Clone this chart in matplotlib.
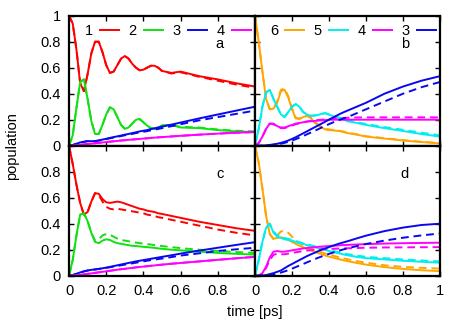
import matplotlib
matplotlib.use("Agg")
import matplotlib.pyplot as plt

plt.rcParams['font.family'] = ['Liberation Sans', 'DejaVu Sans']

# time grid [ps]
T = [0, .02, .04, .06, .08, .10, .12, .14, .16, .18, .20, .22, .24, .26, .28, .30,
     .32, .34, .36, .38, .40, .42, .44, .46, .48, .50, .55, .60, .70, .80, .90, 1.0]

# panel a: states 1..4, solid and dashed
a1 = [1.00, .94, .74, .48, .42, .55, .71, .80, .80, .72, .62, .56, .57, .62, .67, .69,
      .67, .63, .60, .58, .585, .60, .615, .615, .60, .575, .56, .57, .535, .51, .48, .455]
a1d = [1.00, .94, .74, .48, .42, .55, .71, .80, .80, .72, .62, .56, .57, .62, .67, .69,
       .67, .63, .60, .58, .585, .60, .615, .615, .60, .575, .555, .565, .53, .50, .47, .445]
a2 = [0, .08, .29, .49, .51, .36, .19, .09, .09, .16, .24, .295, .28, .22, .16, .13,
      .14, .17, .20, .205, .18, .155, .135, .13, .14, .155, .16, .14, .135, .12, .11, .105]
a2d = [0, .08, .29, .49, .51, .36, .19, .09, .09, .16, .24, .295, .28, .22, .16, .13,
       .14, .17, .20, .205, .18, .155, .135, .13, .14, .155, .16, .145, .14, .125, .115, .11]
a3 = [0, .005, .015, .025, .03, .035, .035, .035, .04, .047, .053, .06, .066, .072, .078, .085,
      .09, .097, .103, .11, .115, .12, .128, .134, .14, .147, .162, .178, .21, .24, .27, .30]
a3d = [0, .005, .015, .025, .03, .035, .035, .035, .04, .046, .051, .057, .063, .068, .074, .08,
       .085, .091, .097, .102, .107, .112, .118, .123, .129, .135, .15, .165, .195, .22, .245, .27]
a4 = [0, 0, .003, .006, .01, .013, .016, .019, .022, .025, .028, .031, .034, .037, .04, .042,
      .045, .047, .05, .052, .055, .057, .06, .062, .064, .066, .071, .076, .085, .093, .10, .105]
a4d = a4

# panel b: states 6, 5, 4, 3
b6 = [1.00, .80, .57, .36, .28, .285, .33, .42, .43, .37, .28, .21, .205, .22, .228, .215,
      .18, .16, .14, .125, .12, .118, .115, .112, .105, .097, .085, .07, .055, .04, .028, .018]
b6d = [1.00, .80, .57, .36, .28, .29, .34, .43, .44, .38, .29, .215, .21, .225, .232, .22,
       .185, .165, .145, .13, .125, .122, .118, .114, .108, .10, .088, .073, .058, .043, .03, .02]
b5 = [0, .13, .30, .41, .43, .36, .30, .24, .22, .26, .30, .32, .30, .26, .24, .23,
      .232, .236, .245, .25, .24, .228, .218, .21, .2, .188, .175, .16, .135, .113, .09, .07]
b5d = [0, .13, .30, .41, .43, .36, .30, .24, .22, .26, .30, .32, .30, .26, .24, .23,
       .232, .236, .245, .25, .24, .23, .222, .214, .205, .195, .18, .167, .143, .122, .1, .08]
b4 = [0, .02, .07, .13, .17, .17, .15, .14, .14, .15, .16, .17, .175, .18, .185, .188,
      .19, .193, .195, .197, .2, .2, .2, .2, .2, .2, .2, .2, .2, .2, .2, .2]
b4d = [0, .02, .07, .13, .17, .165, .145, .135, .135, .145, .155, .165, .172, .18, .186, .19,
       .195, .198, .2, .203, .206, .208, .21, .212, .213, .215, .217, .218, .218, .218, .218, .218]
b3 = [0, 0, .001, .003, .006, .01, .015, .022, .03, .04, .052, .065, .08, .095, .11, .125,
      .14, .155, .17, .185, .20, .215, .23, .245, .258, .27, .30, .33, .40, .455, .50, .535]
b3d = [0, 0, .001, .002, .004, .007, .011, .015, .022, .03, .04, .05, .062, .074, .087, .10,
       .113, .126, .14, .153, .166, .178, .19, .20, .21, .22, .25, .28, .34, .40, .45, .49]

# panel c: states 1..4
c1 = [1.00, .86, .70, .56, .47, .49, .57, .635, .63, .59, .565, .56, .565, .57, .565, .555,
      .545, .535, .525, .515, .51, .50, .495, .49, .48, .475, .46, .445, .415, .39, .365, .345]
c1d = [1.00, .86, .70, .56, .47, .49, .57, .635, .62, .57, .53, .515, .51, .515, .51, .505,
       .50, .495, .49, .485, .48, .47, .465, .46, .45, .445, .43, .415, .385, .355, .33, .31]
c2 = [0, .12, .31, .47, .48, .42, .33, .26, .25, .27, .28, .275, .26, .25, .245, .24,
      .235, .23, .228, .225, .222, .22, .217, .214, .21, .207, .20, .195, .185, .175, .168, .162]
c2d = [0, .12, .31, .47, .48, .42, .33, .27, .28, .31, .32, .315, .30, .285, .275, .27,
       .265, .26, .255, .25, .247, .243, .24, .235, .232, .228, .22, .212, .2, .19, .182, .175]
c3 = [0, .005, .015, .025, .033, .04, .045, .048, .052, .057, .062, .068, .074, .08, .086, .092,
      .098, .104, .11, .115, .12, .125, .13, .135, .14, .145, .157, .17, .193, .215, .237, .258]
c3d = [0, .005, .015, .025, .033, .04, .045, .048, .052, .056, .06, .065, .07, .075, .08, .085,
       .09, .095, .1, .105, .11, .115, .12, .124, .128, .132, .143, .155, .172, .19, .203, .215]
c4 = [0, .001, .003, .006, .01, .014, .018, .022, .026, .03, .034, .038, .042, .046, .05, .053,
      .057, .06, .064, .067, .07, .073, .076, .079, .082, .085, .092, .098, .11, .122, .134, .145]
c4d = c4

# panel d: states 6, 5, 4, 3
d6 = [1.00, .87, .67, .46, .32, .285, .29, .295, .29, .275, .26, .245, .23, .22, .205, .195,
      .185, .175, .165, .155, .147, .14, .132, .125, .118, .112, .098, .085, .066, .052, .042, .035]
d6d = [1.00, .87, .67, .46, .32, .28, .31, .34, .345, .33, .30, .27, .25, .235, .22, .21,
       .20, .19, .18, .17, .162, .155, .147, .14, .133, .127, .112, .10, .08, .068, .06, .055]
d5 = [0, .12, .26, .37, .40, .33, .30, .29, .28, .275, .27, .26, .25, .245, .235, .228,
      .22, .212, .205, .198, .19, .183, .176, .17, .163, .157, .145, .135, .125, .115, .107, .10]
d5d = [0, .12, .26, .37, .40, .34, .31, .30, .29, .283, .277, .268, .258, .25, .242, .235,
       .228, .22, .213, .206, .199, .192, .185, .179, .172, .166, .155, .145, .135, .125, .117, .11]
d4 = [0, 0, .02, .07, .14, .185, .19, .185, .185, .19, .195, .2, .205, .21, .213, .216,
      .219, .222, .224, .226, .228, .23, .232, .234, .236, .237, .24, .243, .247, .25, .252, .254]
d4d = [0, 0, .015, .06, .12, .16, .17, .165, .165, .17, .175, .18, .185, .19, .193, .196,
       .199, .2, .202, .204, .206, .207, .208, .209, .21, .211, .213, .215, .217, .218, .219, .22]
d3 = [0, 0, .002, .005, .012, .02, .03, .04, .058, .075, .09, .105, .12, .135, .15, .163,
      .175, .188, .20, .21, .22, .23, .24, .249, .257, .265, .287, .308, .343, .37, .39, .40]
d3d = [0, 0, .001, .002, .005, .01, .016, .024, .033, .043, .054, .066, .078, .09, .102, .114,
       .126, .137, .148, .158, .168, .177, .186, .195, .203, .21, .228, .244, .27, .292, .31, .325]

RED, GREEN, BLUE, MAG, ORA, CYA = '#ff0000', '#11e011', '#0808f0', '#ff00ff', '#ffa500', '#00eeee'

panels = [
    ('a', [('1', a1, a1d, RED), ('2', a2, a2d, GREEN), ('3', a3, a3d, BLUE), ('4', a4, a4d, MAG)]),
    ('b', [('6', b6, b6d, ORA), ('5', b5, b5d, CYA), ('4', b4, b4d, MAG), ('3', b3, b3d, BLUE)]),
    ('c', [('1', c1, c1d, RED), ('2', c2, c2d, GREEN), ('3', c3, c3d, BLUE), ('4', c4, c4d, MAG)]),
    ('d', [('6', d6, d6d, ORA), ('5', d5, d5d, CYA), ('4', d4, d4d, MAG), ('3', d3, d3d, BLUE)]),
]

fig = plt.figure(figsize=(4.63, 3.24), dpi=100)
W, H = 463, 324
boxes = [(69, 15.7, 186, 130), (255, 15.7, 185, 130),
         (69, 145.7, 186, 130), (255, 145.7, 185, 130)]

for i, ((tag, series), (x0, y0, w, h)) in enumerate(zip(panels, boxes)):
    ax = fig.add_axes([x0 / W, 1 - (y0 + h) / H, w / W, h / H])
    handles = []
    for lab, sol, das, col in series:
        ln, = ax.plot(T, sol, color=col, lw=1.4, label=lab)
        ax.plot(T, das, color=col, lw=1.4, dashes=(4, 2.5))
        handles.append(ln)
    ax.set_xlim(0, 1)
    ax.set_ylim(0, 1)
    ax.set_xticks([0, 0.2, 0.4, 0.6, 0.8, 1])
    ax.set_yticks([0, 0.2, 0.4, 0.6, 0.8, 1])
    ax.tick_params(direction='in', top=True, right=True, length=3.5, width=1,
                   labelsize=10.5, pad=6)
    for s in ax.spines.values():
        s.set_linewidth(1.6)
    left = i % 2 == 0
    top = i < 2
    if left:
        ax.set_yticklabels(['0', '0.2', '0.4', '0.6', '0.8', '1' if top else ''])
    else:
        ax.set_yticklabels([])
    if top:
        ax.set_xticklabels([])
    elif left:
        ax.set_xticklabels(['0', '0.2', '0.4', '0.6', '0.8', ''])
    else:
        ax.set_xticklabels(['0', '0.2', '0.4', '0.6', '0.8', '1'])
    if top:
        ax.legend(handles=handles, ncol=4, loc='upper center', frameon=False,
                  markerfirst=False, handlelength=1.3, columnspacing=0.65,
                  handletextpad=0.5, borderpad=0.05, borderaxespad=0.5,
                  fontsize=10.5, bbox_to_anchor=(0.53, 1.0))
    ax.text(0.81, 0.78, tag, transform=ax.transAxes, fontsize=10.5,
            ha='center', va='center')

fig.text(12 / W, 1 - 146 / H, 'population', rotation=90, ha='center', va='center', fontsize=10.5)
fig.text(255 / W, 1 - 312 / H, 'time [ps]', ha='center', va='center', fontsize=10.5)

fig.savefig('out.png', dpi=100)
